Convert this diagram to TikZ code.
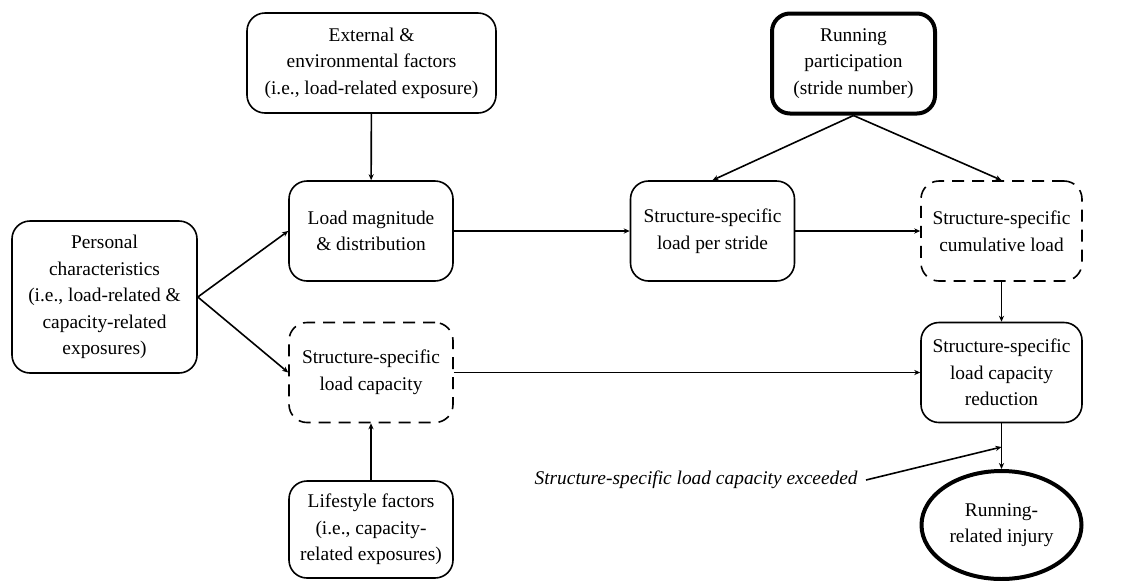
\documentclass[tikz,border=0pt]{standalone}
\usepackage{fontspec}
\setmainfont{Liberation Serif}
\usetikzlibrary{arrows.meta,shapes.geometric}
\begin{document}
\begin{tikzpicture}[x=0.5pt,y=-0.5pt,
  every node/.style={font=\fontsize{9.7}{13.3}\selectfont, align=center, inner sep=1pt},
  box/.style={draw, rounded corners=9pt, line width=0.8pt, minimum width=82pt, minimum height=50pt},
  dbox/.style={box, dash pattern=on 6pt off 4pt},
  bold/.style={box, line width=2pt},
  oval/.style={draw, ellipse, line width=2pt, minimum width=80pt, minimum height=54pt, inner sep=0pt},
  arr/.style={line width=0.8pt, -{Stealth[length=3pt,width=2.6pt]}}
]
\useasboundingbox (0,0) rectangle (1125,580);

% boxes
\node[box, minimum width=124.5pt] (ext) at (371.5,63) {External \&\\environmental factors\\(i.e., load-related exposure)};
\node[box] (mag) at (371,231) {Load magnitude\\\& distribution};
\node[box, minimum width=92.5pt, minimum height=76pt] (pers) at (104.5,297) {Personal\\characteristics\\(i.e., load-related \&\\capacity-related\\exposures)};
\node[dbox] (cap) at (371,372.5) {Structure-specific\\load capacity};
\node[box, minimum height=48.5pt] (life) at (371,529.5) {Lifestyle factors\\(i.e., capacity-\\related exposures)};
\node[bold, minimum width=81.5pt] (run) at (853.5,63.5) {Running\\participation\\(stride number)};
\node[box] (stride) at (712.5,231) {Structure-specific\\load per stride};
\node[dbox, minimum width=80.5pt] (cum) at (1001.5,231) {Structure-specific\\cumulative load};
\node[box, minimum width=80.5pt] (red) at (1001.5,372.5) {Structure-specific\\load capacity\\reduction};
\node[oval] (inj) at (1001.5,525) {Running-\\related injury};
\node[anchor=east, inner sep=4pt, font=\fontsize{9.7}{13.3}\selectfont\itshape] (lbl) at (866,480) {Structure-specific load capacity exceeded};
\coordinate (hit) at (1001.5,447);

% connectors
\draw[arr] (ext) -- (mag);
\draw[arr] (pers.east) -- (mag.west);
\draw[arr] (pers.east) -- (cap.west);
\draw[arr] (life) -- (cap);
\draw[arr] (mag) -- (stride);
\draw[arr] (stride) -- (cum);
\draw[arr] (run.south) -- (stride.north);
\draw[arr] (run.south) -- (cum.north);
\draw[arr] (cum) -- (red);
\draw[arr] (cap) -- (red);
\draw[arr] (red) -- (inj);
\draw[arr] (lbl.east) -- (hit);
\end{tikzpicture}
\end{document}
